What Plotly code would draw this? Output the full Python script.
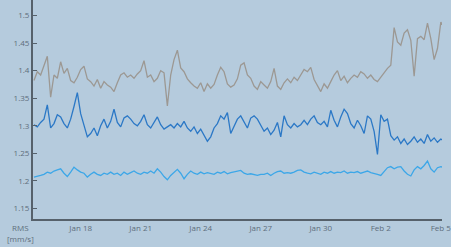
import pandas as pd
import plotly.graph_objects as go

start = "2024-01-15 16:00"
n_points = 124

gray_vals = [
    1.382, 1.398, 1.392, 1.410, 1.426, 1.352,
    1.392, 1.386, 1.416, 1.395, 1.404, 1.382,
    1.378, 1.388, 1.402, 1.408, 1.385, 1.380,
    1.372, 1.384, 1.368, 1.380, 1.374, 1.370,
    1.362, 1.378, 1.392, 1.396, 1.388, 1.392,
    1.386, 1.394, 1.400, 1.418, 1.388, 1.392,
    1.380, 1.386, 1.400, 1.396, 1.336, 1.392,
    1.420, 1.437, 1.405, 1.398, 1.385, 1.378,
    1.372, 1.368, 1.378, 1.362, 1.376, 1.368,
    1.375, 1.392, 1.406, 1.398, 1.376, 1.370,
    1.374, 1.385, 1.410, 1.414, 1.392, 1.386,
    1.372, 1.366, 1.380, 1.374, 1.368, 1.380,
    1.404, 1.372, 1.366, 1.378, 1.385, 1.378,
    1.388, 1.382, 1.392, 1.402, 1.398, 1.406,
    1.384, 1.372, 1.362, 1.376, 1.368, 1.380,
    1.392, 1.400, 1.382, 1.390, 1.378, 1.386,
    1.392, 1.388, 1.398, 1.394, 1.386, 1.392,
    1.384, 1.380, 1.388, 1.398, 1.404, 1.410,
    1.478, 1.452, 1.446, 1.468, 1.474, 1.455,
    1.390, 1.458, 1.462, 1.456, 1.486, 1.458,
    1.420, 1.440, 1.488, 1.478,
]

blue_vals = [
    1.302, 1.298, 1.306, 1.312, 1.338, 1.296,
    1.304, 1.320, 1.316, 1.304, 1.296, 1.312,
    1.335, 1.360, 1.322, 1.300, 1.280, 1.286,
    1.296, 1.282, 1.300, 1.312, 1.296, 1.308,
    1.330, 1.306, 1.298, 1.314, 1.318, 1.312,
    1.304, 1.300, 1.308, 1.320, 1.302, 1.296,
    1.306, 1.316, 1.302, 1.294, 1.298, 1.302,
    1.296, 1.304, 1.298, 1.308, 1.296, 1.290,
    1.298, 1.286, 1.294, 1.284, 1.272, 1.280,
    1.296, 1.304, 1.318, 1.312, 1.324, 1.286,
    1.300, 1.312, 1.318, 1.308, 1.296, 1.314,
    1.318, 1.312, 1.300, 1.290, 1.296, 1.284,
    1.292, 1.306, 1.280, 1.318, 1.302, 1.296,
    1.304, 1.298, 1.302, 1.310, 1.302, 1.312,
    1.318, 1.306, 1.302, 1.308, 1.298, 1.328,
    1.310, 1.298, 1.316, 1.330, 1.322, 1.304,
    1.296, 1.310, 1.300, 1.286, 1.318, 1.312,
    1.290, 1.248, 1.320, 1.308, 1.312, 1.282,
    1.274, 1.280, 1.268, 1.276, 1.266, 1.272,
    1.280, 1.270, 1.276, 1.268, 1.284, 1.272,
    1.278, 1.270, 1.276, 1.272,
]

light_vals = [
    1.207, 1.208, 1.210, 1.212, 1.216, 1.214,
    1.218, 1.220, 1.222, 1.214, 1.208, 1.216,
    1.225, 1.220, 1.216, 1.214, 1.207, 1.212,
    1.216, 1.212, 1.210, 1.214, 1.212, 1.216,
    1.212, 1.214, 1.210, 1.216, 1.212, 1.215,
    1.218, 1.214, 1.212, 1.216, 1.214, 1.218,
    1.214, 1.222, 1.216, 1.208, 1.202, 1.210,
    1.216, 1.221, 1.214, 1.204, 1.212, 1.218,
    1.214, 1.212, 1.216, 1.213, 1.215, 1.214,
    1.212, 1.216, 1.214, 1.217, 1.213, 1.215,
    1.216, 1.218, 1.219, 1.214, 1.212, 1.213,
    1.211, 1.210, 1.212, 1.212, 1.214, 1.210,
    1.214, 1.217, 1.218, 1.214, 1.215, 1.214,
    1.216, 1.219, 1.220, 1.216, 1.214, 1.213,
    1.216, 1.214, 1.212, 1.216, 1.214, 1.217,
    1.214, 1.216, 1.215, 1.218, 1.214, 1.216,
    1.215, 1.217, 1.214, 1.216, 1.218, 1.215,
    1.214, 1.212, 1.210, 1.218, 1.224, 1.226,
    1.222, 1.225, 1.226, 1.218, 1.212, 1.209,
    1.220, 1.226, 1.222, 1.228, 1.236, 1.222,
    1.216, 1.224, 1.226, 1.224,
]

x_tick_vals = ["2024-01-18", "2024-01-21", "2024-01-24", "2024-01-27",
               "2024-01-30", "2024-02-02", "2024-02-05"]
x_tick_text = ["Jan 18", "Jan 21", "Jan 24", "Jan 27", "Jan 30", "Feb 2", "Feb 5"]
y_tick_vals = [1.15, 1.2, 1.25, 1.3, 1.35, 1.4, 1.45, 1.5]
y_tick_text = ["1.15", "1.2", "1.25", "1.3", "1.35", "1.4", "1.45", "1.5"]

times = pd.date_range(start, periods=n_points, freq="4h")

fig = go.Figure()
for vals, col in [(gray_vals, "#9c9893"), (blue_vals, "#2b78c6"), (light_vals, "#3ca7e8")]:
    fig.add_trace(go.Scatter(x=times, y=vals, mode="lines",
                             line=dict(color=col, width=1.3), hoverinfo="skip",
                             showlegend=False))

axis_col = "#56616b"
tick_font = dict(family="Open Sans, sans-serif", size=8, color="#5e6e7c")

fig.update_layout(
    width=451, height=247,
    margin=dict(l=33, r=0, t=0, b=28),
    paper_bgcolor="#b5cbdd",
    plot_bgcolor="#b5cbdd",
    xaxis=dict(
        range=["2024-01-15 14:50", "2024-02-05 01:25"],
        tickvals=x_tick_vals, ticktext=x_tick_text,
        showgrid=False, zeroline=False,
        showline=True, linecolor=axis_col, linewidth=2,
        ticks="", tickfont=tick_font, ticklabeloverflow="allow",
    ),
    yaxis=dict(
        range=[1.131, 1.528],
        tickvals=y_tick_vals, ticktext=y_tick_text,
        showgrid=False, zeroline=False,
        showline=True, linecolor=axis_col, linewidth=2,
        ticks="inside", ticklen=4, tickcolor=axis_col, tickwidth=1,
        tickfont=tick_font,
    ),
    annotations=[
        dict(text="RMS", xref="paper", yref="paper", x=-0.031, y=-0.041,
             showarrow=False, font=tick_font, xanchor="center", yanchor="middle"),
        dict(text="[mm/s]", xref="paper", yref="paper", x=-0.031, y=-0.087,
             showarrow=False, font=tick_font, xanchor="center", yanchor="middle"),
    ],
)

fig.write_html("out.html", config={"displayModeBar": False},
               post_script="document.body.style.margin='0';document.body.style.overflow='hidden';")
